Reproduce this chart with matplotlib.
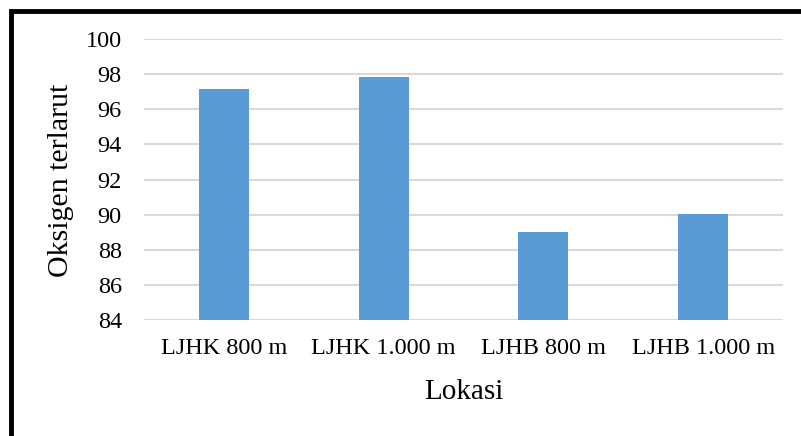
import matplotlib.pyplot as plt
from matplotlib.patches import Rectangle

# Kadar oksigen terlarut per lokasi
lokasi = ["LJHK 800 m", "LJHK 1.000 m", "LJHB 800 m", "LJHB 1.000 m"]
oksigen = [97.13, 97.84, 89.0, 90.05]
yticks = [84, 86, 88, 90, 92, 94, 96, 98, 100]

plt.rcParams["font.family"] = ["Liberation Serif", "DejaVu Serif"]

W, H = 801, 436
fig = plt.figure(figsize=(W / 100, H / 100), dpi=100)
ax = fig.add_axes([144 / W, (H - 320) / H, (783 - 144) / W, (320 - 39) / H])

x = range(len(lokasi))
ax.bar(x, oksigen, width=0.313, color="#5b9bd5", zorder=3)

ax.set_xlim(-0.5, len(lokasi) - 0.5)
ax.set_ylim(84, 100)
ax.set_yticks(yticks)
ax.set_xticks(list(x))
ax.set_xticklabels(lokasi)

ax.grid(axis="y", color="#d9d9d9", linewidth=1.5, zorder=0)
ax.tick_params(axis="both", length=0, labelsize=17.5, colors="black")
ax.tick_params(axis="y", pad=16)
ax.tick_params(axis="x", pad=13)
for side in ["top", "right", "left", "bottom"]:
    ax.spines[side].set_visible(False)

ax.set_xlabel("Lokasi", fontsize=21)
ax.set_ylabel("Oksigen terlarut", fontsize=21.5)
ax.xaxis.set_label_coords((464 - 144) / (783 - 144), -(392 - 320) / (320 - 39))
ax.yaxis.set_label_coords(-(144 - 61) / (783 - 144), (320 - 180) / (320 - 39))
ax.xaxis.label.set_va("center")
ax.yaxis.label.set_va("center")

# bingkai hitam (terpotong di kanan dan bawah)
fig.patches.append(Rectangle((11 / W, -0.1), 1.2, 1.1 - 11 / H,
                             transform=fig.transFigure, fill=False,
                             edgecolor="black", linewidth=3.5))

fig.savefig("out.png", dpi=100)
